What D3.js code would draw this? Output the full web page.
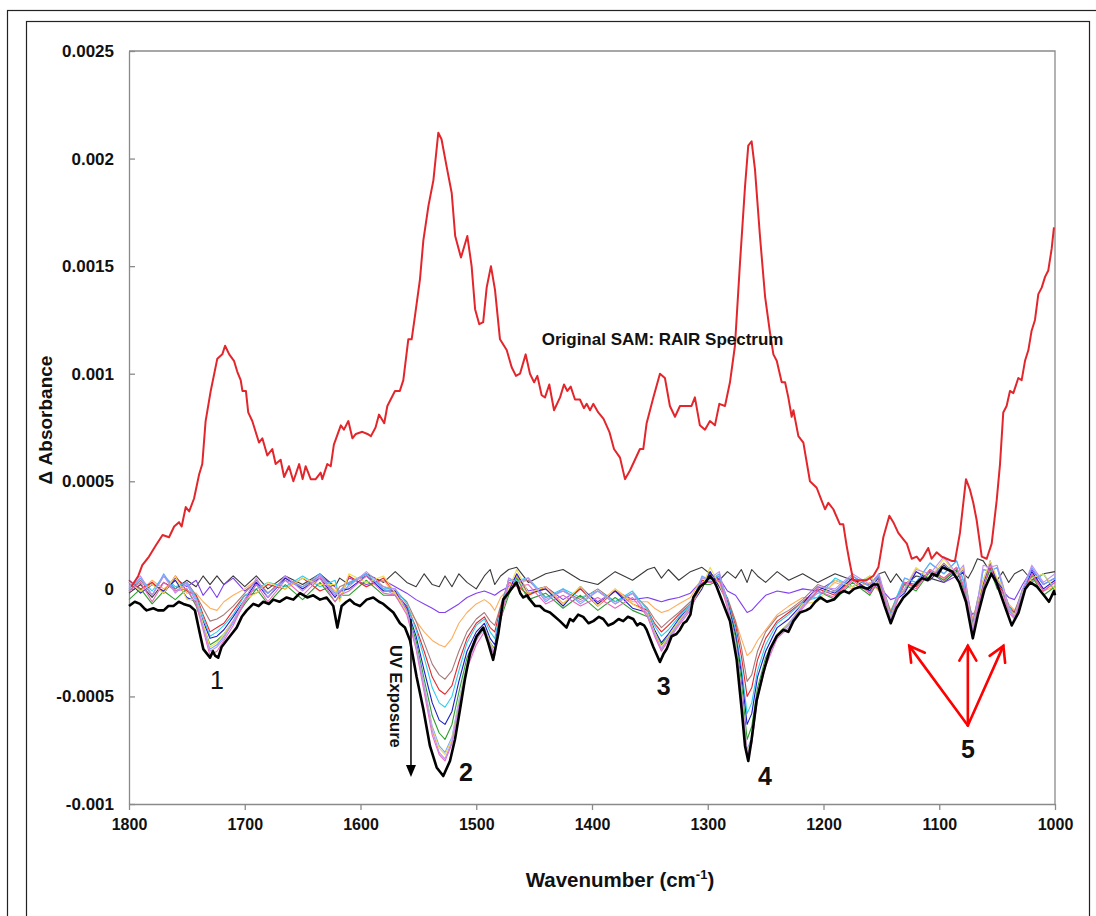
<!DOCTYPE html>
<html><head><meta charset="utf-8">
<script src="https://cdn.jsdelivr.net/npm/d3@7"></script>
<style>body{margin:0;background:#fff}svg{display:block}</style>
</head><body>
<svg id="chart" width="1096" height="916"></svg>
<script>
// ---------- DATA (ΔAbsorbance values stored in units of 1e-4) ----------
const wavenumbers = [
1800,1790,1780,1770,1760,1750,1742,1736,1730,1724,
1718,1710,1700,1690,1680,1665,1650,1635,1622,1618,
1610,1595,1580,1570,1560,1552,1545,1538,1532,1527,
1521,1515,1508,1500,1493,1488,1484,1479,1472,1465,
1455,1440,1425,1410,1395,1380,1365,1352,1346,1340,
1334,1325,1315,1305,1298,1290,1283,1276,1271,1266,
1262,1257,1250,1240,1230,1218,1205,1190,1175,1160,
1152,1147,1142,1137,1130,1120,1108,1096,1085,1079,
1075,1071,1067,1062,1056,1050,1045,1040,1035,1028,
1020,1010,1000];

const diffGrey = [
-0.2,0.2,-0.4,0.3,0.0,0.4,0.1,0.6,0.2,0.6,
0.2,0.6,0.1,0.6,0.0,0.6,0.2,0.7,0.1,0.5,
0.2,0.7,0.3,0.8,0.3,0.1,0.7,0.2,0.1,0.6,
0.1,0.7,0.3,0.0,0.6,0.9,0.2,0.6,0.9,1.0,
0.3,0.7,0.9,0.4,0.2,0.8,0.4,0.9,1.0,0.5,
0.9,0.4,0.8,1.0,0.7,0.4,0.8,0.5,0.9,0.3,
0.9,0.6,0.3,0.8,0.4,0.7,0.3,0.7,0.4,0.2,
0.7,0.8,0.3,0.7,0.2,0.6,0.5,0.3,0.8,0.7,
0.5,0.9,1.4,1.3,0.8,0.4,0.8,0.3,0.7,0.9,
0.4,0.7,0.8];

const diffViolet = [
0.4,-0.1,0.3,-0.2,0.5,0.1,0.4,-0.3,0.1,-0.4,
0.2,0.5,-0.1,0.3,-0.2,0.5,0.0,0.6,0.1,-0.2,
0.5,0.2,0.4,0.1,-0.2,-0.5,-0.7,-0.9,-1.1,-1.1,
-0.9,-0.7,-0.4,-0.2,-0.1,-0.2,-0.3,-0.1,0.1,0.6,
-0.1,0.1,-0.5,0.0,-0.6,-0.1,-0.5,-0.4,-0.5,-0.6,
-0.5,-0.4,-0.2,0.4,0.3,0.5,-0.1,-0.3,-0.7,-1.1,
-1.0,-0.7,-0.3,-0.1,-0.2,0.0,-0.1,0.4,0.1,0.5,
-0.1,-0.2,-0.5,-0.4,0.3,0.2,0.8,0.3,0.6,-0.2,
-0.8,-1.2,-0.9,0.0,1.3,0.2,-0.1,-0.4,-0.5,0.2,
0.9,0.2,0.5];

const diffOrange = [
0.3,-0.1,0.4,0.0,0.4,-0.2,-0.2,-0.6,-0.9,-1.0,
-0.6,-0.3,0.0,0.4,-0.2,0.5,0.0,0.6,-0.1,-0.2,
0.6,0.1,0.4,-0.3,-0.8,-1.5,-2.0,-2.4,-2.6,-2.7,
-2.3,-1.6,-1.1,-0.7,-0.5,-0.7,-1.0,-0.4,0.0,0.6,
-0.3,0.0,-0.7,0.1,-0.7,0.0,-0.6,-0.6,-0.9,-1.1,
-1.0,-0.7,-0.4,0.5,0.3,0.4,-0.5,-1.5,-2.3,-3.1,
-2.9,-2.4,-1.9,-1.2,-0.8,-0.4,-0.4,0.3,0.0,0.3,
-0.1,-0.3,-1.0,-0.5,0.3,0.1,0.9,0.4,1.0,0.1,
-0.5,-1.4,-0.6,0.1,0.9,0.3,-0.1,-0.7,-1.0,-0.2,
0.6,-0.1,0.1];

const diffMauve = [
-0.1,0.4,-0.3,0.6,0.0,0.3,-0.3,-0.9,-1.5,-1.4,
-1.2,-0.8,-0.2,0.4,-0.2,0.5,0.1,0.6,-0.3,0.1,
0.3,0.6,0.1,-0.1,-0.6,-1.5,-2.5,-3.5,-4.0,-4.2,
-3.8,-2.9,-2.0,-1.4,-1.1,-1.5,-1.7,-0.8,0.4,0.3,
0.4,-0.4,-0.1,-0.5,0.0,-0.6,-0.2,-0.9,-1.4,-1.8,
-1.5,-1.1,-0.6,0.1,0.8,0.1,-0.4,-1.5,-2.7,-4.3,
-4.0,-2.9,-2.0,-1.3,-1.0,-0.5,0.2,-0.1,0.6,0.1,
0.5,-0.2,-1.1,-0.4,-0.1,0.8,0.5,1.2,0.6,0.9,
-0.4,-1.6,-0.5,0.4,1.2,0.4,0.1,-0.8,-1.1,0.0,
0.3,0.7,-0.1];

const diffRed = [
0.4,0.0,0.3,-0.2,0.6,-0.1,-0.3,-1.2,-2.0,-1.8,
-1.6,-1.0,-0.3,-0.2,0.2,0.0,0.5,-0.1,0.2,-0.5,
0.6,0.1,0.5,-0.2,-0.8,-1.8,-2.9,-4.1,-4.7,-4.9,
-4.5,-3.4,-2.3,-1.6,-1.3,-1.8,-2.0,-0.9,0.3,0.2,
-0.3,0.1,-0.7,0.0,-0.8,-0.1,-0.7,-1.0,-1.6,-2.0,
-1.7,-1.2,-0.7,0.4,0.3,0.6,-0.5,-1.7,-3.1,-5.0,
-4.6,-3.3,-2.3,-1.5,-1.1,-0.6,0.0,-0.3,0.5,-0.2,
0.4,-0.4,-1.2,-0.5,0.3,0.1,0.9,0.5,1.0,0.1,
-0.6,-1.7,-0.7,0.2,1.0,0.2,-0.1,-0.8,-1.1,-0.2,
0.7,-0.1,0.3];

const diffCyan = [
0.0,0.5,-0.1,0.6,0.1,0.3,-0.4,-1.3,-2.2,-2.0,
-1.7,-1.2,-0.3,0.0,0.3,0.1,0.6,0.1,0.4,-0.4,
0.2,0.7,0.0,0.0,-0.7,-1.9,-3.2,-4.6,-5.3,-5.5,
-5.0,-3.8,-2.5,-1.7,-1.4,-2.0,-2.3,-1.0,0.4,0.4,
0.5,-0.4,0.0,-0.4,-0.1,-0.6,-0.1,-1.0,-1.7,-2.2,
-1.9,-1.3,-0.7,0.5,0.5,0.6,-0.5,-1.9,-3.6,-5.8,
-5.3,-3.8,-2.6,-1.6,-1.2,-0.6,-0.4,0.5,0.1,0.6,
0.1,-0.3,-1.2,-0.4,0.5,0.3,1.2,0.7,1.3,0.4,
-0.5,-1.7,-0.6,0.9,0.8,1.0,0.1,-0.8,-1.2,0.0,
0.3,0.7,-0.1];

const diffBlue = [
0.3,-0.2,0.2,-0.1,0.4,-0.4,-0.6,-1.5,-2.3,-2.2,
-1.9,-1.3,-0.5,0.3,-0.4,0.5,0.0,0.5,-0.4,-0.1,
0.0,0.6,-0.1,-0.1,-0.9,-2.2,-3.8,-5.3,-6.1,-6.3,
-5.7,-4.3,-2.9,-2.0,-1.6,-2.3,-2.6,-1.2,-0.1,0.7,
-0.2,0.0,-0.8,0.1,-0.7,-0.1,-0.9,-1.1,-1.9,-2.5,
-2.1,-1.4,-0.8,0.0,0.8,0.1,-0.6,-2.1,-3.9,-6.3,
-5.8,-4.1,-2.9,-1.8,-1.4,-0.7,0.1,-0.2,0.5,-0.1,
0.6,-0.4,-1.3,-0.5,-0.2,0.8,0.4,1.1,0.5,0.8,
-0.6,-1.8,-0.7,0.2,1.1,0.3,0.0,-0.9,-1.2,-0.1,
0.8,0.0,0.4];

const diffGreen = [
-0.5,0.0,-0.7,-0.1,-0.5,0.0,-0.8,-1.7,-2.6,-2.4,
-2.1,-1.5,-0.7,0.0,-0.7,0.2,-0.5,0.3,-0.6,-0.3,
-0.3,0.4,-0.3,-0.3,-1.0,-2.4,-4.2,-5.9,-6.7,-7.0,
-6.3,-4.8,-3.2,-2.2,-1.8,-2.5,-2.8,-1.4,-0.3,0.5,
-0.5,-0.2,-0.9,-0.3,-1.0,-0.4,-1.0,-1.3,-2.0,-2.6,
-2.2,-1.5,-0.9,0.2,0.2,0.4,-0.7,-2.3,-4.3,-7.0,
-6.4,-4.6,-3.2,-2.1,-1.6,-0.8,-0.1,-0.5,0.3,-0.3,
0.4,-0.5,-1.3,-0.6,0.2,-0.1,0.8,0.4,0.9,0.0,
-0.7,-1.8,-0.8,0.1,0.9,0.0,-0.2,-1.0,-1.3,-0.3,
0.6,-0.3,0.1];

const diffLightBlue = [
0.0,0.5,-0.3,0.7,-0.1,0.2,-0.6,-1.7,-2.8,-2.6,
-2.2,-1.6,-0.6,0.2,-0.2,0.4,0.1,0.7,-0.2,-0.1,
0.3,0.7,0.0,-0.3,-1.1,-2.6,-4.5,-6.4,-7.3,-7.6,
-6.9,-5.2,-3.5,-2.3,-1.9,-2.6,-3.0,-1.4,0.5,0.3,
0.5,-0.6,0.0,-0.7,-0.1,-0.7,-0.2,-1.2,-2.1,-2.8,
-2.3,-1.6,-0.9,0.6,0.4,0.7,-0.8,-2.5,-4.7,-7.5,
-6.9,-4.9,-3.4,-2.2,-1.7,-0.8,-0.2,-0.1,0.6,0.1,
0.6,-0.4,-1.4,-0.6,0.5,0.3,1.2,0.7,1.3,0.3,
-0.7,-1.9,-0.8,0.9,0.8,1.0,0.0,-1.0,-1.3,-0.2,
1.0,0.2,0.5];

const diffYellow = [
0.3,-0.1,0.2,-0.2,0.6,-0.5,-0.5,-1.6,-2.7,-2.5,
-2.1,-1.5,-0.5,-0.2,0.3,0.0,0.5,0.2,0.2,-0.6,
0.7,0.3,0.6,-0.2,-1.1,-2.7,-4.6,-6.5,-7.4,-7.7,
-7.0,-5.3,-3.5,-2.4,-1.8,-2.5,-2.9,-1.3,0.0,0.9,
-0.2,0.1,-0.7,0.1,-0.8,0.0,-0.7,-1.1,-2.0,-2.7,
-2.2,-1.5,-0.8,0.1,1.0,0.2,-0.7,-2.5,-4.7,-7.6,
-7.0,-4.9,-3.4,-2.1,-1.6,-0.7,-0.6,0.4,0.1,0.6,
0.1,-0.3,-1.3,-0.5,0.0,1.0,0.5,1.4,0.6,1.0,
-0.6,-1.8,-0.7,0.4,1.3,0.5,0.1,-0.9,-1.2,-0.1,
0.5,0.7,0.0];

const diffPink = [
-0.1,0.3,-0.6,0.3,-0.1,0.0,-0.7,-1.9,-3.1,-2.9,
-2.4,-1.7,-0.6,0.2,-0.6,0.4,-0.3,0.5,-0.6,-0.3,
-0.1,0.6,-0.2,-0.3,-1.2,-2.8,-4.8,-6.8,-7.7,-8.0,
-7.2,-5.5,-3.7,-2.6,-2.0,-2.7,-3.1,-1.5,0.3,0.1,
0.2,-0.7,-0.3,-0.8,-0.4,-0.9,-0.4,-1.3,-2.2,-2.9,
-2.4,-1.7,-1.0,0.3,0.3,0.4,-0.9,-2.7,-4.9,-7.8,
-7.2,-5.1,-3.6,-2.3,-1.8,-0.9,-0.1,-0.4,0.4,-0.2,
0.4,-0.5,-1.4,-0.7,0.3,0.0,0.9,0.5,1.0,0.1,
-0.8,-2.0,-0.9,0.1,1.1,0.1,-0.2,-1.1,-1.4,-0.3,
0.7,-0.1,0.3];

const diffLavender = [
0.1,0.6,-0.3,0.6,-0.2,0.3,-0.5,-1.8,-2.9,-2.7,
-2.3,-1.5,-0.5,0.5,-0.4,0.6,-0.1,0.6,-0.3,-0.1,
0.1,0.8,0.1,0.0,-1.0,-2.7,-4.6,-6.6,-7.6,-7.9,
-7.1,-5.4,-3.6,-2.4,-1.8,-2.6,-3.0,-1.4,0.5,0.3,
0.5,-0.5,-0.1,-0.6,-0.1,-0.7,-0.2,-1.2,-2.1,-2.8,
-2.3,-1.6,-0.8,0.5,0.5,0.8,-0.7,-2.6,-4.8,-7.7,
-7.1,-5.0,-3.5,-2.2,-1.6,-0.8,0.1,0.0,0.7,0.2,
0.7,-0.3,-1.4,-0.5,0.0,0.9,0.7,1.5,0.7,1.1,
-0.5,-1.9,-0.6,1.1,1.0,1.1,0.2,-0.9,-1.3,0.0,
1.1,0.3,0.7];

// Final (longest UV exposure) difference spectrum: [wavenumber, value 1e-4]
const finalSpectrum = [
[1800,-0.8],[1795,-0.6],[1790.5,-0.7],[1787,-0.9],[1784.7,-1.0],[1779,-0.9],[1775,-1.0],[1770,-1.0],[1766,-0.8],[1761.6,-0.8],
[1757,-0.6],[1753,-0.7],[1747.3,-0.8],[1743,-1.0],[1738.7,-2.1],[1735.8,-2.8],[1732.9,-3.0],[1730,-3.2],[1727.5,-2.9],[1725.7,-3.1],
[1722.9,-3.2],[1720,-2.7],[1715.7,-2.4],[1711.3,-2.1],[1707,-1.8],[1702.6,-1.3],[1698.3,-1.0],[1692.6,-0.7],[1688,-0.8],[1684,-0.6],
[1679,-0.7],[1675.4,-0.5],[1670,-0.6],[1663.8,-0.4],[1658,-0.5],[1652.3,-0.2],[1646,-0.4],[1640.8,-0.3],[1635,-0.5],[1629.3,-0.4],
[1623.5,-0.8],[1620,-1.8],[1616.3,-0.8],[1612,-0.6],[1609.1,-0.5],[1605,-0.7],[1600.5,-0.8],[1594.7,-0.5],[1589,-0.4],[1584,-0.6],
[1580.3,-0.7],[1576,-0.9],[1571.6,-1.1],[1565.9,-1.6],[1561.6,-1.8],[1557.2,-2.4],[1551.5,-4.1],[1545.7,-5.6],[1540,-7.3],[1534.2,-8.3],
[1528.5,-8.7],[1522.7,-8.0],[1518.4,-7.0],[1514,-5.6],[1509.8,-4.2],[1505.4,-3.0],[1499.7,-2.2],[1494,-1.8],[1489.7,-2.5],[1485.4,-3.3],
[1481,-2.1],[1476.7,-0.5],[1471,-0.1],[1465.2,0.3],[1462,-0.2],[1459.4,-0.4],[1456,-0.3],[1453.6,-0.5],[1449,-0.8],[1445,-0.8],
[1441,-1.0],[1436.3,-1.1],[1432,-1.3],[1427.7,-1.5],[1422,-1.8],[1419,-1.4],[1416.2,-1.5],[1412,-1.2],[1407.6,-1.3],[1403,-1.6],
[1398.9,-1.5],[1394,-1.3],[1390.3,-1.4],[1386,-1.7],[1381.6,-1.6],[1377,-1.4],[1373,-1.5],[1369,-1.3],[1364.4,-1.4],[1361,-1.7],
[1358.6,-1.6],[1355,-1.7],[1352.8,-1.9],[1347,-2.7],[1341.3,-3.4],[1338,-3.0],[1335.5,-2.8],[1331.2,-2.2],[1327,-2.1],[1324,-1.9],
[1321,-1.6],[1318.3,-1.5],[1315,-1.2],[1312.5,-0.4],[1306.8,0.1],[1302,0.3],[1298.1,0.6],[1295,0.4],[1292.3,0.1],[1286.6,-0.7],
[1280.8,-1.5],[1275,-3.3],[1270.7,-5.6],[1267.8,-7.3],[1265,-8.0],[1262.1,-7.0],[1257.8,-5.2],[1252,-3.9],[1246.2,-2.8],[1240.4,-2.2],
[1234.7,-1.9],[1230.4,-2.0],[1226,-1.5],[1220.3,-1.1],[1215,-1.0],[1211.5,-0.9],[1207,-0.6],[1202.8,-0.4],[1197,-0.6],[1191,-0.5],
[1186,-0.2],[1182.2,-0.1],[1178,-0.2],[1173.5,0.0],[1168,0.1],[1161.7,0.0],[1157,0.2],[1152.9,0.2],[1147.1,-0.8],[1141.9,-1.6],
[1136.9,-0.9],[1131,-0.4],[1127,-0.2],[1123.7,0.0],[1119,0.3],[1115,0.5],[1110,0.4],[1106.1,0.7],[1102,0.6],[1097.4,1.0],
[1093,0.9],[1088.6,0.8],[1082.7,0.3],[1076.9,-0.6],[1071,-2.3],[1066.6,-1.2],[1060.8,0.0],[1055,0.7],[1050.6,0.3],[1044.7,-0.6],
[1037.4,-1.7],[1031.5,-1.1],[1025.7,0.0],[1021.3,0.3],[1015.5,0.1],[1009.6,-0.3],[1005.2,-0.6],[1000.9,-0.1],[1000,-0.3]];

// Original SAM RAIR spectrum (wavenumber, value in 1e-4)
const samWavenumbers = [
1798,1792,1788.5,1782.7,1777,1771,1765.4,1761,1756.8,1754.5,
1751,1748,1743.8,1739.5,1736.7,1733.8,1729.4,1723.7,1719.4,1717,
1713.4,1709.3,1706.5,1703.5,1702,1699,1697,1693.5,1687.7,1684.8,
1680.5,1676.2,1673.3,1669,1666,1661.8,1658,1653,1650,1647.4,
1643,1638.7,1634.4,1633,1628.7,1625.7,1623,1617,1614.3,1610.5,
1607,1604,1598.4,1594,1591,1587,1584,1579.5,1576.8,1570.2,
1566,1563,1558.7,1555.8,1552.9,1548.6,1545.7,1541.3,1537,1532.8,
1530,1525.5,1521.2,1518.2,1513.2,1507.7,1504,1501,1497.4,1494,
1491,1487.3,1483.8,1479.5,1473.7,1469.4,1465.7,1462.2,1457.3,1453.6,
1450,1447.2,1443.5,1440.6,1436.9,1432.8,1427.6,1424.2,1421.3,1418.4,
1414.7,1410.4,1407,1404.6,1401.7,1398.9,1394.6,1390,1385,1381,
1375.8,1371.5,1367.2,1362.9,1358.6,1355.7,1352.8,1347,1341.3,1337,
1332.7,1328.3,1324,1318.3,1314,1311.1,1306.8,1302.4,1298.1,1293.8,
1290,1285.1,1280.8,1276.5,1272.2,1267.8,1265,1262.1,1259.2,1254.9,
1250.5,1246.2,1243.3,1240.4,1236.1,1233.2,1230.4,1227.5,1226,1221.7,
1217.4,1211.7,1205.9,1201.6,1198.7,1195.8,1191.5,1185.8,1182.9,1180,
1177.3,1174.3,1168.5,1162.8,1157,1152.6,1148.3,1143.1,1139.7,1135.4,
1131,1128,1123.8,1119.5,1116.6,1113.7,1109.5,1106.6,1102.3,1098,
1093.6,1089.3,1086.4,1082.1,1076.9,1073.4,1070.6,1067.7,1063.3,1059,
1054.7,1050.4,1047.5,1044.7,1041.8,1038.9,1036,1031.7,1028.8,1025.9,
1023,1020.2,1017.3,1014.4,1011.5,1008.6,1005.8,1002.9,1000.9];
const samAbsorbance = [
0.1,0.6,1.1,1.5,2.0,2.5,2.4,2.9,3.1,2.9,
3.8,3.6,4.2,5.3,5.8,7.8,9.2,10.7,10.9,11.3,
10.9,10.6,10.1,9.7,9.2,9.2,8.2,7.8,6.8,7.0,
6.2,6.5,5.8,6.0,5.2,5.7,5.0,5.8,5.1,5.7,
5.1,5.1,5.4,5.1,5.8,5.7,6.7,7.6,7.4,7.8,
7.0,7.2,7.3,7.2,7.1,7.5,8.1,7.7,8.5,9.2,
9.2,9.7,11.6,11.6,12.7,14.4,16.2,17.8,19.0,21.2,
20.9,19.6,18.4,16.4,15.4,16.4,15.0,13.0,12.3,12.4,
14.0,15.0,13.9,11.6,11.1,10.3,9.9,10.0,10.9,10.0,
9.6,9.9,9.0,8.9,9.5,8.3,8.9,9.5,9.2,9.4,
8.8,8.8,8.4,8.6,8.3,8.6,8.2,7.9,7.3,6.5,
6.1,5.1,5.5,6.0,6.5,6.5,7.7,8.9,10.0,9.8,
8.5,8.0,8.5,8.5,8.5,8.9,7.6,7.4,7.8,7.6,
8.6,8.5,9.6,11.3,15.1,18.7,20.6,20.8,19.5,16.4,
13.6,11.9,10.9,10.6,9.6,9.6,8.9,8.0,8.3,7.1,
6.8,5.0,4.7,4.1,3.7,4.0,3.7,3.0,3.0,2.0,
1.2,0.4,0.4,0.4,0.6,1.0,2.4,3.4,3.1,2.6,
2.3,2.1,1.4,1.5,1.3,1.5,1.9,1.4,1.7,1.5,
1.4,1.3,1.3,2.6,5.1,4.6,4.0,3.2,1.5,1.4,
2.1,4.1,5.8,8.2,8.5,9.2,9.1,9.8,9.7,10.6,
11.1,12.0,12.5,13.7,14.0,14.5,14.8,15.8,16.8];

const seriesNames = ["grey","violet","orange","mauve","red","cyan","blue","green","lightblue","yellow","pink","lavender"];
const seriesValues = [diffGrey,diffViolet,diffOrange,diffMauve,diffRed,diffCyan,diffBlue,diffGreen,diffLightBlue,diffYellow,diffPink,diffLavender];

const xTickValues = [1800,1700,1600,1500,1400,1300,1200,1100,1000];
const yTickValues = [25,20,15,10,5,0,-5,-10];
const yTickLabels = ["0.0025","0.002","0.0015","0.001","0.0005","0","-0.0005","-0.001"];

// annotations (positions in data units: wavenumber, value 1e-4)
const peakLabels = [
  {text:"1", w:1724, v:-4.25, bold:false},
  {text:"2", w:1509, v:-8.5, bold:true},
  {text:"3", w:1338, v:-4.5, bold:true},
  {text:"4", w:1250.5, v:-8.7, bold:true},
  {text:"5", w:1075.2, v:-7.45, bold:true}
];
const samLabel = {text:"Original SAM: RAIR Spectrum", w:1339, v:11.57};
const uvLabel = {text:"UV Exposure", w:1569.4, v:-5.0};
const uvArrow = {w:1556.4, v0:-1.4, v1:-8.75};
const redArrowOrigin = {w:1075.3, v:-6.35};
const redArrowTips = [{w:1125.9, v:-2.65},{w:1075.3, v:-2.65},{w:1044.6, v:-2.65}];

// ---------- STYLE ----------
const colors = {grey:"#3a3a3a", violet:"#8040f0", orange:"#ffad5c", mauve:"#a67a7a", red:"#e8262a",
  cyan:"#2ccdf0", blue:"#1c1cc8", green:"#2e9e2e", lightblue:"#6aa8ff", yellow:"#eedc50",
  pink:"#ee66c0", lavender:"#c090f0"};
const FONT = "'Liberation Sans', Arial, Helvetica, sans-serif";

const svg = d3.select("#chart");
svg.append("rect").attr("width",1096).attr("height",916).attr("fill","#fff");
// frames
svg.append("rect").attr("x",7.5).attr("y",10.5).attr("width",1200).attr("height",1000)
  .attr("fill","none").attr("stroke","#222").attr("stroke-width",1.2);
svg.append("rect").attr("x",26.5).attr("y",21.5).attr("width",1063).attr("height",1000)
  .attr("fill","none").attr("stroke","#222").attr("stroke-width",1.2);

const x = d3.scaleLinear().domain([1800,1000]).range([129,1055]);
const y = d3.scaleLinear().domain([-10,25]).range([804,51]);

// plot frame (top & right)
svg.append("path").attr("d",`M${x(1800)},${y(25)}H${x(1000)}V${y(-10)}`)
  .attr("fill","none").attr("stroke","#8a8a8a").attr("stroke-width",1.3);

// axes
const yAxis = d3.axisLeft(y).tickValues(yTickValues)
  .tickFormat((d,i)=>yTickLabels[i]).tickSize(-6).tickSizeOuter(0).tickPadding(15);
const gy = svg.append("g").attr("transform",`translate(${x(1800)},0)`).call(yAxis);
const xAxis = d3.axisBottom(x).tickValues(xTickValues).tickFormat(d3.format("d"))
  .tickSize(6).tickSizeOuter(0).tickPadding(9);
const gx = svg.append("g").attr("transform",`translate(0,${y(-10)})`).call(xAxis);
[gx,gy].forEach(g=>{
  g.select(".domain").attr("stroke","#8a8a8a").attr("stroke-width",1.3);
  g.selectAll(".tick line").attr("stroke","#8a8a8a").attr("stroke-width",1.3);
  g.selectAll(".tick text").attr("fill","#111").attr("font-family",FONT).attr("font-weight","bold");
});
gy.selectAll(".tick text").attr("font-size","17px");
gx.selectAll(".tick text").attr("font-size","16px");

// lines
const line = d3.line().x(d=>x(d[0])).y(d=>y(d[1]));
const plotG = svg.append("g");
seriesValues.forEach((vals,i)=>{
  const pts = wavenumbers.map((w,j)=>[w,vals[j]]);
  plotG.append("path").datum(pts).attr("d",line)
    .attr("fill","none").attr("stroke",colors[seriesNames[i]])
    .attr("stroke-width",1.1).attr("stroke-linejoin","round");
});
plotG.append("path").datum(finalSpectrum).attr("d",line)
  .attr("fill","none").attr("stroke","#000").attr("stroke-width",2.6).attr("stroke-linejoin","round");
plotG.append("path").datum(samWavenumbers.map((w,j)=>[w,samAbsorbance[j]])).attr("d",line)
  .attr("fill","none").attr("stroke","#e3262b").attr("stroke-width",2).attr("stroke-linejoin","round");

// axis titles
svg.append("text").attr("x",45).attr("y",420).attr("transform","rotate(-90,45,420)")
  .attr("text-anchor","middle").attr("dominant-baseline","central")
  .attr("font-family",FONT).attr("font-weight","bold").attr("font-size","19px").attr("fill","#111")
  .text("Δ Absorbance");
const xt = svg.append("text").attr("x",620).attr("y",887).attr("text-anchor","middle")
  .attr("font-family",FONT).attr("font-weight","bold").attr("font-size","20.5px").attr("fill","#111");
xt.append("tspan").text("Wavenumber (cm");
xt.append("tspan").attr("dy",-8).attr("font-size","13px").text("-1");
xt.append("tspan").attr("dy",8).text(")");

// annotations
svg.append("text").attr("x",x(samLabel.w)).attr("y",y(samLabel.v))
  .attr("text-anchor","middle").attr("dominant-baseline","central")
  .attr("font-family",FONT).attr("font-weight","bold").attr("font-size","17px").attr("fill","#111")
  .text(samLabel.text);
peakLabels.forEach(p=>{
  svg.append("text").attr("x",x(p.w)).attr("y",y(p.v))
    .attr("text-anchor","middle").attr("dominant-baseline","central")
    .attr("font-family",FONT).attr("font-weight",p.bold?"bold":"normal")
    .attr("font-size","25px").attr("fill","#111").text(p.text);
});
const ux = x(uvLabel.w), uy = y(uvLabel.v);
svg.append("text").attr("x",ux).attr("y",uy).attr("transform",`rotate(90,${ux},${uy})`)
  .attr("text-anchor","middle").attr("dominant-baseline","central")
  .attr("font-family",FONT).attr("font-weight","bold").attr("font-size","16.5px").attr("fill","#111")
  .text(uvLabel.text);
// black arrow
const ax = x(uvArrow.w), ay0 = y(uvArrow.v0), ay1 = y(uvArrow.v1);
svg.append("line").attr("x1",ax).attr("x2",ax).attr("y1",ay0).attr("y2",ay1-10)
  .attr("stroke","#000").attr("stroke-width",1.5);
svg.append("path").attr("d",`M${ax-5},${ay1-12}L${ax+5},${ay1-12}L${ax},${ay1}Z`).attr("fill","#000");
// red arrows
const ox = x(redArrowOrigin.w), oy = y(redArrowOrigin.v);
redArrowTips.forEach(t=>{
  const tx = x(t.w), ty = y(t.v);
  const ang = Math.atan2(ty-oy, tx-ox);
  const L = 17, spread = Math.PI/6;
  svg.append("line").attr("x1",ox).attr("y1",oy).attr("x2",tx).attr("y2",ty)
    .attr("stroke","#ff0000").attr("stroke-width",2.6).attr("stroke-linecap","round");
  const p1 = [tx - L*Math.cos(ang-spread), ty - L*Math.sin(ang-spread)];
  const p2 = [tx - L*Math.cos(ang+spread), ty - L*Math.sin(ang+spread)];
  svg.append("path").attr("d",`M${p1[0]},${p1[1]}L${tx},${ty}L${p2[0]},${p2[1]}`)
    .attr("fill","none").attr("stroke","#ff0000").attr("stroke-width",2.6).attr("stroke-linecap","round");
});
</script>
</body></html>
